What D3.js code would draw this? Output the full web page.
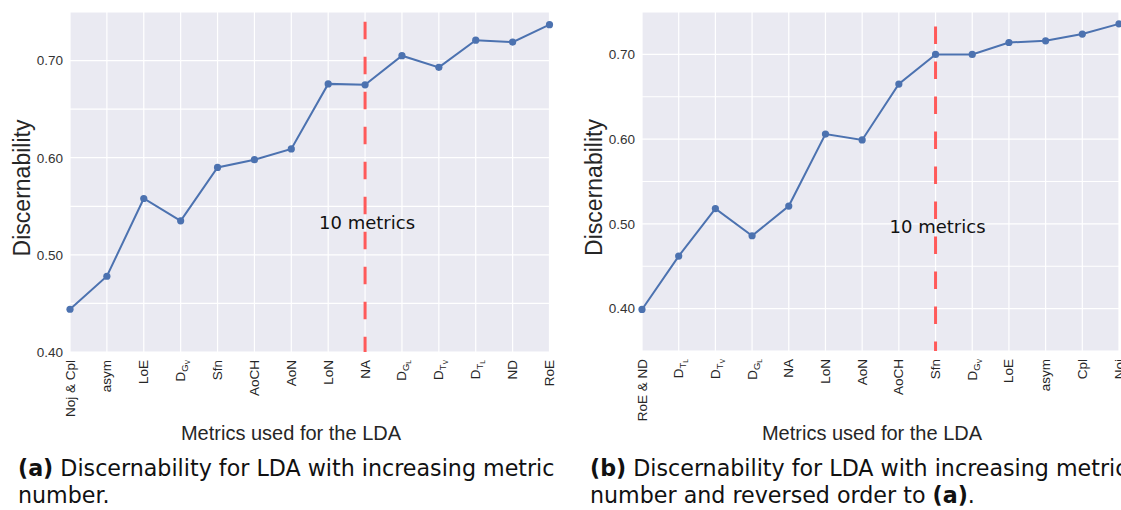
<!DOCTYPE html>
<html>
<head>
<meta charset="utf-8">
<script src="https://cdn.jsdelivr.net/npm/d3@7"></script>
<style>
    body { margin: 0; background: #fff; }
    svg { display: block; }
</style>
</head>
<body>
<svg id="chart" width="1121" height="510"></svg>
<script>
// labels use "|" to mark subscript levels, e.g. "D|G|V" -> D_{G_V}
const leftLabels = ['Noj & Cpl', 'asym', 'LoE', 'D|G|V', 'Sfn', 'AoCH', 'AoN', 'LoN', 'NA', 'D|G|L', 'D|T|V', 'D|T|L', 'ND', 'RoE'];
const leftValues = [0.444, 0.478, 0.558, 0.535, 0.590, 0.598, 0.609, 0.676, 0.675, 0.705, 0.693, 0.721, 0.719, 0.737];

const rightLabels = ['RoE & ND', 'D|T|L', 'D|T|V', 'D|G|L', 'NA', 'LoN', 'AoN', 'AoCH', 'Sfn', 'D|G|V', 'LoE', 'asym', 'Cpl', 'Noj'];
const rightValues = [0.399, 0.462, 0.518, 0.486, 0.521, 0.606, 0.599, 0.665, 0.700, 0.700, 0.714, 0.716, 0.724, 0.736];

const leftYDomain = [0.40, 0.75];
const rightYDomain = [0.35, 0.75];
const yTicks = [0.40, 0.50, 0.60, 0.70];
const gridStep = 0.05;

const markerIndex = 8;       // "10 metrics" cut
const markerText = '10 metrics';
const leftMarkerSpan = [0.40, 0.740];
const rightMarkerSpan = [0.35, 0.733];
const leftTextY = 0.534;
const rightTextY = 0.497;

const svg = d3.select('#chart');
const lineColor = '#4c72b0';
const redColor = '#ff5a5a';
const sans = 'Liberation Sans, Arial, sans-serif';

function drawPanel(svg, p) {
    const x = d3.scaleLinear().domain([0, p.values.length - 1]).range([p.left, p.right]);
    const y = d3.scaleLinear().domain(p.yDomain).range([p.bottom, p.top]);
    const g = svg.append('g');

    // background, clipped by image edge on the right panel
    g.append('rect')
        .attr('x', p.left).attr('y', p.top)
        .attr('width', p.right - p.left).attr('height', p.bottom - p.top)
        .attr('fill', '#eaeaf2');

    var grid = d3.range(p.yDomain[0], p.yDomain[1] + 1e-9, gridStep);
    g.selectAll('line.hgrid').data(grid).enter().append('line')
        .attr('class', 'hgrid')
        .attr('x1', p.left).attr('x2', p.right)
        .attr('y1', function (d) { return y(d); })
        .attr('y2', function (d) { return y(d); })
        .attr('stroke', '#fff').attr('stroke-width', 1.2);

    g.selectAll('line.vgrid').data(p.values).enter().append('line')
        .attr('class', 'vgrid')
        .attr('x1', function (d, i) { return x(i); })
        .attr('x2', function (d, i) { return x(i); })
        .attr('y1', p.top).attr('y2', p.bottom)
        .attr('stroke', '#fff').attr('stroke-width', 1.2);

    // y ticks
    const yAxis = d3.axisLeft(y).tickValues(yTicks).tickFormat(d3.format('.2f')).tickSize(0).tickPadding(7);
    const ya = g.append('g').attr('transform', 'translate(' + p.left + ',0)').call(yAxis);
    ya.select('.domain').remove();
    ya.selectAll('text')
        .attr('font-family', sans)
        .attr('font-size', 13.5).attr('fill', '#333');

    // x tick labels, rotated
    g.selectAll('text.xlab').data(p.labels).enter().append('text')
        .attr('class', 'xlab')
        .attr('transform', function (d, i) {
            return 'translate(' + (x(i) + 4.5) + ',' + (p.bottom + 8) + ') rotate(-90)';
        })
        .attr('text-anchor', 'end')
        .attr('font-family', sans)
        .attr('font-size', 13.5).attr('fill', '#262626')
        .each(function (d) {
            var t = d3.select(this), parts = d.split('|');
            t.append('tspan').text(parts[0]);
            if (parts.length > 1) {
                t.append('tspan').attr('dy', 3).attr('font-size', 9.5).text(parts[1]);
                t.append('tspan').attr('dy', 2).attr('font-size', 6.5).text(parts[2]);
            }
        });

    // red dashed cut line
    g.append('line')
        .attr('x1', x(markerIndex)).attr('x2', x(markerIndex))
        .attr('y1', y(p.markerSpan[1])).attr('y2', y(p.markerSpan[0]))
        .attr('stroke', redColor).attr('stroke-width', 3)
        .attr('stroke-dasharray', '17.5 17.5');

    const line = d3.line()
        .x(function (d, i) { return x(i); })
        .y(function (d) { return y(d); });

    g.append('path')
        .attr('d', line(p.values))
        .attr('fill', 'none').attr('stroke', lineColor).attr('stroke-width', 2);

    g.selectAll('circle.pt').data(p.values).enter().append('circle')
        .attr('class', 'pt')
        .attr('cx', function (d, i) { return x(i); })
        .attr('cy', function (d) { return y(d); })
        .attr('r', 3.6).attr('fill', lineColor);

    g.append('text')
        .attr('x', x(markerIndex) + 2).attr('y', y(p.textY) + 7)
        .attr('text-anchor', 'middle')
        .attr('font-family', 'DejaVu Sans, sans-serif')
        .attr('font-size', 18).attr('fill', '#111')
        .text(markerText);

    // axis titles
    g.append('text')
        .attr('transform', 'translate(' + p.ylabX + ',' + ((p.top + p.bottom) / 2 + 6) + ') rotate(-90)')
        .attr('text-anchor', 'middle')
        .attr('font-family', sans)
        .attr('font-size', 23).attr('fill', '#262626')
        .text('Discernability');

    g.append('text')
        .attr('x', p.xlabX).attr('y', 440)
        .attr('text-anchor', 'middle')
        .attr('font-family', sans)
        .attr('font-size', 20).attr('fill', '#262626')
        .text('Metrics used for the LDA');

    // caption
    const cap = g.append('text')
        .attr('font-family', 'DejaVu Sans, sans-serif')
        .attr('font-size', 22.2).attr('fill', '#111');
    p.caption.forEach(function (row, r) {
        row.forEach(function (seg, k) {
            var ts = cap.append('tspan').text(seg.t);
            if (k === 0) ts.attr('x', p.capX).attr('y', 476 + r * 27);
            if (seg.b) ts.attr('font-weight', 'bold');
        });
    });
}

drawPanel(svg, {
    labels: leftLabels, values: leftValues, yDomain: leftYDomain,
    left: 70, right: 549.5, top: 12, bottom: 352,
    markerSpan: leftMarkerSpan, textY: leftTextY,
    ylabX: 30, xlabX: 291, capX: 18,
    caption: [
        [{t: '(a)', b: true}, {t: ' Discernability for LDA with increasing metric'}],
        [{t: 'number.'}]
    ]
});

drawPanel(svg, {
    labels: rightLabels, values: rightValues, yDomain: rightYDomain,
    left: 642, right: 1119, top: 12, bottom: 351,
    markerSpan: rightMarkerSpan, textY: rightTextY,
    ylabX: 602, xlabX: 872, capX: 590,
    caption: [
        [{t: '(b)', b: true}, {t: ' Discernability for LDA with increasing metric'}],
        [{t: 'number and reversed order to '}, {t: '(a)', b: true}, {t: '.'}]
    ]
});
</script>
</body>
</html>
